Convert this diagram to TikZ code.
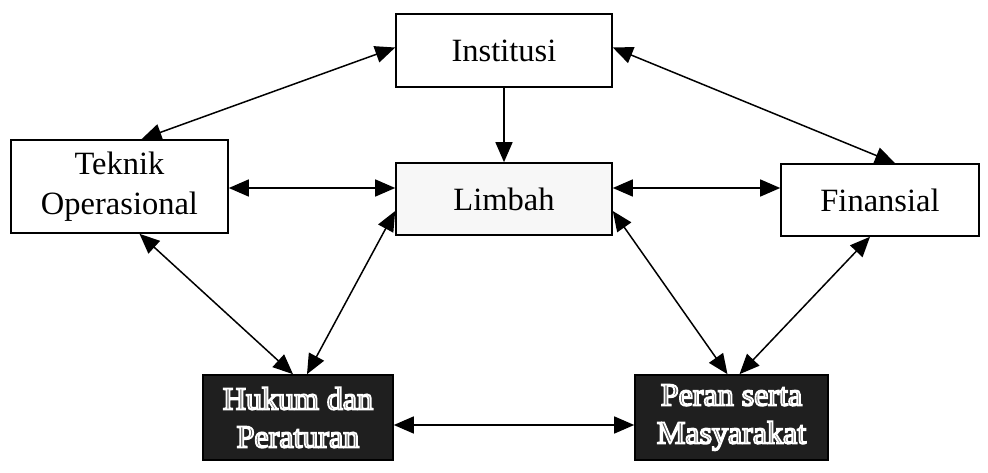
\documentclass[tikz,border=0pt]{standalone}
\usepackage{fontspec}
\setmainfont{Liberation Serif}
\usetikzlibrary{arrows.meta}
% outlined lettering for the dark boxes: fill in grey, stroke in white
\newcommand\hollowtext[1]{\special{pdf:literal 2 Tr 1.8 w 1 1 1 RG}#1\special{pdf:literal 0 Tr}}
\begin{document}
\begin{tikzpicture}[x=1pt,y=-1pt,
  every node/.style={font=\fontsize{32.5}{40}\selectfont, align=center, inner sep=0pt},
  whitebox/.style={draw, line width=1.6pt, fill=white},
  softbox/.style={draw, line width=1.6pt, fill=black!3},
  darkbox/.style={draw, line width=1.6pt, fill=black!88, text=black!65, font=\fontsize{32}{38}\selectfont},
  conn/.style={line width=1.5pt},
  twoway/.style={conn, {Triangle[length=20pt,width=17pt]}-{Triangle[length=20pt,width=17pt]}},
  oneway/.style={conn, -{Triangle[length=20pt,width=17pt]}}]
\useasboundingbox (0,0) rectangle (988,473);

% boxes
\node[whitebox, minimum width=216pt, minimum height=73pt] (inst) at (504,50.5) {Institusi};
\node[whitebox, minimum width=217pt, minimum height=93pt] (tek) at (119.5,186.5) {Teknik\\Operasional};
\node[softbox, minimum width=216pt, minimum height=72pt] (limb) at (504,199) {Limbah};
\node[whitebox, minimum width=198pt, minimum height=72pt] (fin) at (880,200) {Finansial};
\node[darkbox, minimum width=190pt, minimum height=85pt] (huk) at (298,417.5) {\hollowtext{Hukum dan}\\\hollowtext{Peraturan}};
\node[darkbox, minimum width=193pt, minimum height=85pt] (per) at (731.5,417.5) {\hollowtext{Peran serta}\\\hollowtext{Masyarakat}};

% connectors
\draw[twoway] ([yshift=3pt]inst.west) -- ([xshift=22pt]tek.north);
\draw[twoway] ([yshift=3pt]inst.east) -- ([xshift=15pt]fin.north);
\draw[oneway] (inst.south) -- (limb.north);
\draw[twoway] ([yshift=11pt]limb.west) -- ([yshift=11pt]limb.west -| tek.east);
\draw[twoway] ([yshift=11pt]limb.east) -- ([yshift=11pt]limb.east -| fin.west);
\draw[twoway] ([xshift=20pt]tek.south) -- ([xshift=-5pt]huk.north);
\draw[twoway] ([yshift=-12pt]limb.west) -- ([xshift=9pt]huk.north);
\draw[twoway] ([yshift=-12pt]limb.east) -- ([xshift=-4pt]per.north);
\draw[twoway] ([xshift=-10pt]fin.south) -- ([xshift=8pt]per.north);
\draw[twoway] ([yshift=-7.5pt]huk.east) -- ([yshift=-7.5pt]per.west);
\end{tikzpicture}
\end{document}
